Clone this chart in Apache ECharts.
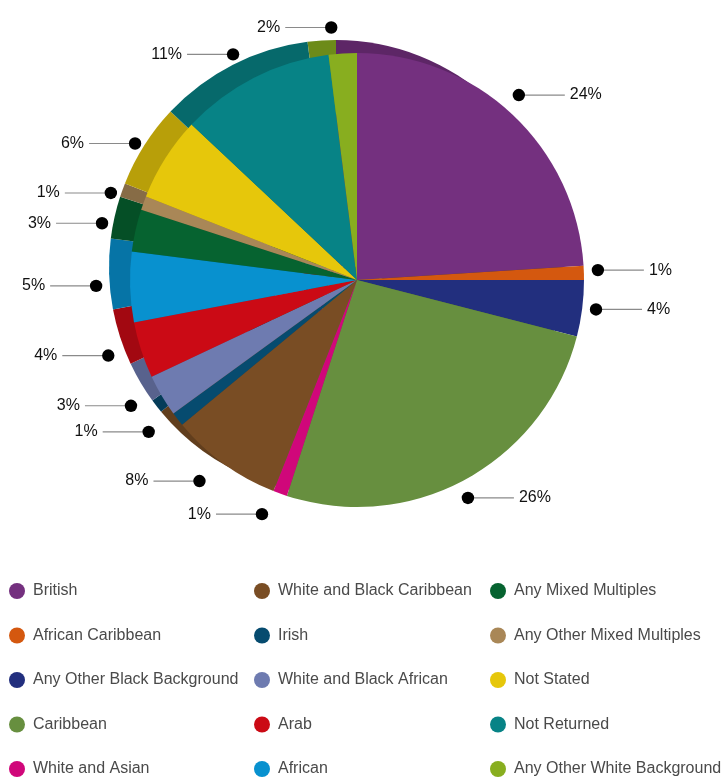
<!DOCTYPE html>
<html>
<head>
<meta charset="utf-8">
<script src="https://cdn.jsdelivr.net/npm/echarts@6/dist/echarts.min.js"></script>
<style>
  html, body { margin: 0; padding: 0; background: #fff; }
  #chart { width: 725px; height: 781px; }
</style>
</head>
<body>
<div id="chart"></div>
<script>
// Ethnic background breakdown (percent of total)
const categories = [
  'British', 'African Caribbean', 'Any Other Black Background', 'Caribbean',
  'White and Asian', 'White and Black Caribbean', 'Irish', 'White and Black African',
  'Arab', 'African', 'Any Mixed Multiples', 'Any Other Mixed Multiples',
  'Not Stated', 'Not Returned', 'Any Other White Background'
];
const percentages = [24, 1, 4, 26, 1, 8, 1, 3, 4, 5, 3, 1, 6, 11, 2];
const colors = [
  '#74307f', '#d4580f', '#222f7e', '#678f3f', '#d0077a', '#794d24', '#064b6f', '#6e7bb0',
  '#cb0a15', '#0891cf', '#066330', '#a98757', '#e6c70b', '#078386', '#88ae1f'
];
// Legend columns
const legendCol1 = categories.slice(0, 5);
const legendCol2 = categories.slice(5, 10);
const legendCol3 = categories.slice(10, 15);

const FONT = "'Liberation Sans', Arial, sans-serif";

function shade(hex, f) {
  const n = parseInt(hex.slice(1), 16);
  const r = Math.round(((n >> 16) & 255) * f);
  const g = Math.round(((n >> 8) & 255) * f);
  const b = Math.round((n & 255) * f);
  return 'rgb(' + r + ',' + g + ',' + b + ')';
}

const faceData = categories.map((name, i) => ({
  name, value: percentages[i], itemStyle: { color: colors[i] }
}));
const sideData = categories.map((name, i) => ({
  name, value: percentages[i], itemStyle: { color: shade(colors[i], 0.8) }
}));
const labelData = categories.map((name, i) => ({
  name, value: percentages[i]
}));

function legendColumn(names, left) {
  return {
    data: names,
    orient: 'vertical',
    left: left,
    top: 583,
    height: 198,
    padding: 0,
    icon: 'circle',
    itemWidth: 16,
    itemHeight: 16,
    itemGap: 28.5,
    textStyle: { fontFamily: FONT, fontSize: 16, color: '#4a4a4a', padding: [0, 0, 0, 3] }
  };
}

const chart = echarts.init(document.getElementById('chart'), null, { renderer: 'canvas' });

chart.setOption({
  animation: false,
  backgroundColor: '#ffffff',
  legend: [
    legendColumn(legendCol1, 9),
    legendColumn(legendCol2, 254),
    legendColumn(legendCol3, 490)
  ],
  series: [
    {
      // front face
      type: 'pie',
      name: 'face',
      z: 3,
      center: [357, 280],
      radius: 227,
      startAngle: 90,
      clockwise: true,
      label: { show: false },
      labelLine: { show: false },
      emphasis: { disabled: true },
      itemStyle: { borderWidth: 0 },
      data: faceData
    },
    {
      // depth / side wall, shifted up-left
      type: 'pie',
      name: 'side',
      z: 2,
      silent: true,
      center: [336, 267],
      radius: 227,
      startAngle: 90,
      clockwise: true,
      label: { show: false },
      labelLine: { show: false },
      emphasis: { disabled: true },
      itemStyle: { borderWidth: 0 },
      data: sideData
    },
    {
      // invisible ring carrying the percentage callouts
      type: 'pie',
      name: 'callouts',
      z: 1,
      silent: true,
      center: [347, 278],
      radius: 251,
      startAngle: 90,
      clockwise: true,
      avoidLabelOverlap: false,
      itemStyle: { color: 'rgba(0,0,0,0)', borderWidth: 0 },
      emphasis: { disabled: true },
      label: {
        show: true,
        position: 'outside',
        formatter: p => p.value + '%',
        fontFamily: FONT,
        fontSize: 16,
        color: '#111111',
        distanceToLabelLine: 5
      },
      labelLine: {
        show: true,
        length: 0,
        length2: 46,
        smooth: false,
        lineStyle: { color: '#8a8a8a', width: 1.2 }
      },
      labelLayout: { hideOverlap: false },
      data: labelData
    }
  ]
});

// Black dots at the start of every callout line
function drawDots() {
  const data = chart.getModel().getSeriesByIndex(2).getData();
  const dots = [];
  data.each(function (idx) {
    let p = null;
    const el = data.getItemGraphicEl(idx);
    const guide = el && el.getTextGuideLine ? el.getTextGuideLine() : null;
    if (guide && guide.shape && guide.shape.points && guide.shape.points.length) {
      p = guide.shape.points[0];
    } else {
      const l = data.getItemLayout(idx);
      const a = (l.startAngle + l.endAngle) / 2;
      p = [l.cx + l.r * Math.cos(a), l.cy + l.r * Math.sin(a)];
    }
    dots.push({
      type: 'circle',
      silent: true,
      z: 100,
      shape: { cx: p[0], cy: p[1], r: 6.2 },
      style: { fill: '#000000' }
    });
  });
  chart.setOption({ graphic: dots });
}
drawDots();
</script>
</body>
</html>
